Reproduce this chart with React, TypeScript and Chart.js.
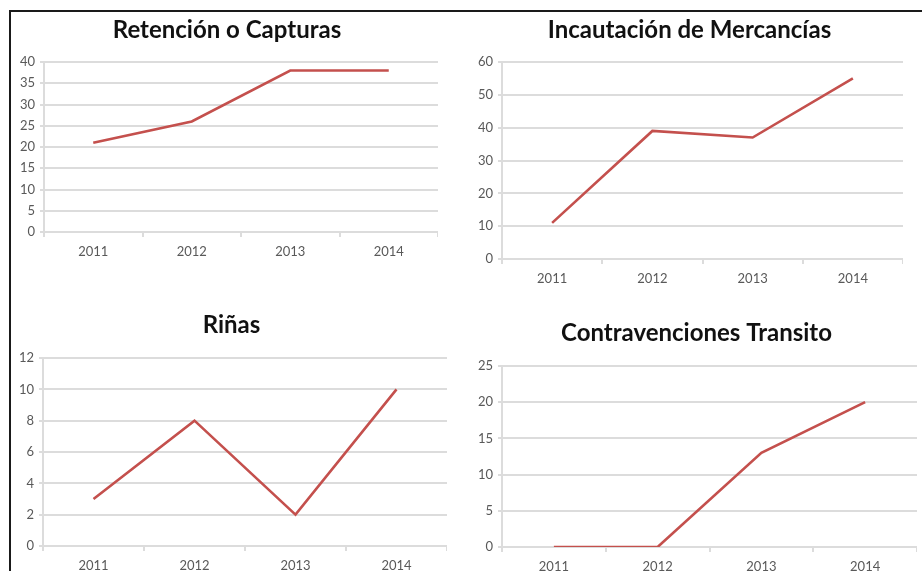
import React, { useEffect, useRef } from 'react';
import { Chart, registerables } from 'chart.js';

Chart.register(...registerables);

// ---- data ----
const years = ['2011', '2012', '2013', '2014'];

const retencionTitle = 'Retención o Capturas';
const retencionValues = [21, 26, 38, 38];
const retencionScale = [0, 40, 5]; // min, max, step

const incautacionTitle = 'Incautación de Mercancías';
const incautacionValues = [11, 39, 37, 55];
const incautacionScale = [0, 60, 10];

const rinasTitle = 'Riñas';
const rinasValues = [3, 8, 2, 10];
const rinasScale = [0, 12, 2];

const contravencionesTitle = 'Contravenciones Transito';
const contravencionesValues = [0, 0, 13, 20];
const contravencionesScale = [0, 25, 5];

// ---- layout (positions / sizes) ----
type Panel = {
  title: string;
  values: number[];
  scale: number[];
  left: number;
  top: number;
  width: number;
  height: number;
  yWidth: number;
  xHeight: number;
  titlePadTop: number;
  titlePadBottom: number;
};

const panels: Panel[] = [
  { title: retencionTitle, values: retencionValues, scale: retencionScale,
    left: 16, top: 8, width: 422, height: 254, yWidth: 28, xHeight: 30, titlePadTop: 10, titlePadBottom: 20 },
  { title: incautacionTitle, values: incautacionValues, scale: incautacionScale,
    left: 476, top: 8, width: 427, height: 281, yWidth: 26, xHeight: 30, titlePadTop: 10, titlePadBottom: 20 },
  { title: rinasTitle, values: rinasValues, scale: rinasScale,
    left: 16, top: 300, width: 431, height: 280, yWidth: 27, xHeight: 34, titlePadTop: 13, titlePadBottom: 21 },
  { title: contravencionesTitle, values: contravencionesValues, scale: contravencionesScale,
    left: 476, top: 300, width: 441, height: 280, yWidth: 26, xHeight: 33, titlePadTop: 21, titlePadBottom: 21 },
];

const LINE = '#c4504d';
const GRID = '#dcdcdc';
const TICK = '#595959';
const FONT = 'Lato, "Open Sans", sans-serif';

function makeChart(canvas: HTMLCanvasElement, p: Panel) {
  return new Chart(canvas, {
    type: 'line',
    data: {
      labels: years,
      datasets: [
        {
          data: p.values,
          borderColor: LINE,
          borderWidth: 2.6,
          pointRadius: 0,
          tension: 0,
          fill: false,
        },
      ],
    },
    options: {
      responsive: false,
      animation: false,
      layout: { padding: 0 },
      plugins: {
        legend: { display: false },
        tooltip: { enabled: false },
        title: {
          display: true,
          text: p.title,
          color: '#111111',
          font: { family: FONT, size: 24, weight: 'bold', lineHeight: 1 },
          padding: { top: p.titlePadTop, bottom: p.titlePadBottom },
        },
      },
      scales: {
        x: {
          type: 'category',
          offset: true,
          grid: {
            offset: true,
            drawOnChartArea: false,
            drawTicks: true,
            tickLength: 5,
            color: GRID,
            lineWidth: 2,
          },
          border: { display: true, color: GRID, width: 2 },
          ticks: {
            color: TICK,
            font: { family: FONT, size: 13 },
            padding: 7,
            maxRotation: 0,
          },
          afterFit: (s: any) => {
            s.height = p.xHeight;
          },
        },
        y: {
          min: p.scale[0],
          max: p.scale[1],
          grid: {
            color: GRID,
            lineWidth: 2,
            drawTicks: true,
            tickLength: 4,
          },
          border: { display: true, color: GRID, width: 2 },
          ticks: {
            stepSize: p.scale[2],
            color: TICK,
            font: { family: FONT, size: 13 },
            padding: 5,
          },
          afterFit: (s: any) => {
            s.width = p.yWidth;
          },
        },
      },
    },
  });
}

export default function App() {
  const refs = useRef<(HTMLCanvasElement | null)[]>([]);

  useEffect(() => {
    const charts = panels.map((p, i) => makeChart(refs.current[i] as HTMLCanvasElement, p));
    return () => charts.forEach((c) => c.destroy());
  }, []);

  return (
    <div
      style={{
        position: 'absolute',
        left: 0,
        top: 0,
        width: 922,
        height: 571,
        overflow: 'hidden',
        background: '#ffffff',
      }}
    >
      <div
        style={{
          position: 'absolute',
          left: 9,
          top: 10,
          width: 930,
          height: 600,
          borderLeft: '2px solid #1a1a1a',
          borderTop: '2px solid #1a1a1a',
        }}
      />
      {panels.map((p, i) => (
        <canvas
          key={i}
          ref={(el) => {
            refs.current[i] = el;
          }}
          width={p.width}
          height={p.height}
          style={{
            position: 'absolute',
            left: p.left,
            top: p.top,
            width: p.width,
            height: p.height,
          }}
        />
      ))}
    </div>
  );
}
